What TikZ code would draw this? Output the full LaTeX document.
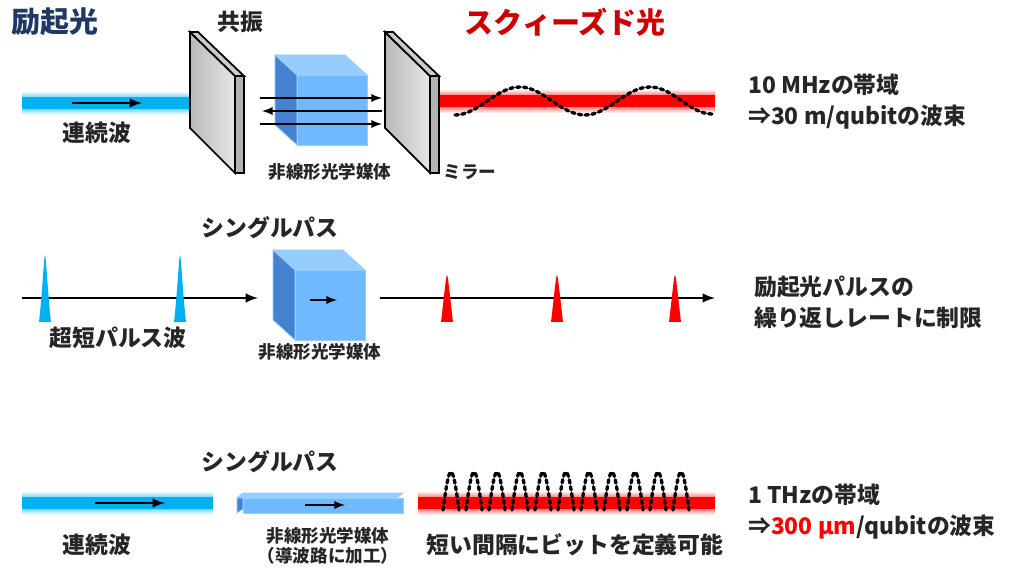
\documentclass[tikz,border=0pt]{standalone}
\usepackage{fontspec}
\setmainfont{Noto Sans CJK JP}
\usetikzlibrary{positioning}
\definecolor{beamblue}{RGB}{0,176,240}
\definecolor{navy}{RGB}{31,56,100}
\definecolor{cubefront}{RGB}{110,185,255}
\definecolor{cubeside}{RGB}{70,130,210}
\definecolor{cubetop}{RGB}{150,205,255}
\definecolor{mirrorface}{RGB}{210,210,210}
\tikzset{
  title/.style={font=\fontsize{16.5}{16}\selectfont\bfseries},
  label/.style={font=\fontsize{13}{13}\selectfont\bfseries, text=black!85},
  small/.style={font=\fontsize{10}{11.5}\selectfont\bfseries, text=black!85},
  note/.style={font=\fontsize{13}{14}\selectfont\bfseries, anchor=west, text=black!85},
  ray/.style={->, >=latex, line width=1.4pt},
  thin ray/.style={->, >=latex, line width=1.1pt},
  wave/.style={dotted, line width=1.9pt, line cap=round}
}
\newcommand\beam[4]{% x1, x2, y, colour
  \shade[top color=white, bottom color=white, middle color=#4] (#1,#3-12) rectangle (#2,#3+12);
  \fill[#4] (#1,#3-6) rectangle (#2,#3+6);}
\newcommand\mirror[1]{% left x of front face
  \begin{scope}[xshift=#1*0.02cm]
    \shade[left color=gray!55, right color=gray!20, draw=black, line width=1pt] (0,32) -- (45,76) -- (45,173) -- (0,128) -- cycle;
    \fill[gray!60, draw=black, line width=1pt] (45,76) -- (54,76) -- (54,173) -- (45,173) -- cycle;
    \fill[gray!40, draw=black, line width=1pt] (0,32) -- (8,32) -- (54,76) -- (45,76) -- cycle;
  \end{scope}}
\newcommand\cube[3]{% x, y of front top-left, size
  \fill[cubeside, draw=cubetop] (#1,#2) -- (#1-22,#2-20) -- (#1-22,#2+#3-20) -- (#1,#2+#3) -- cycle;
  \fill[cubetop, draw=cubetop] (#1,#2) -- (#1-22,#2-20) -- (#1+#3-22,#2-20) -- (#1+#3,#2) -- cycle;
  \fill[cubefront, draw=cubetop] (#1,#2) rectangle (#1+#3,#2+#3);}
\newcommand\pulse[4]{% x, top y, base y, colour
  \fill[#4] (#1-6,#3) .. controls (#1-3,#3-25) and (#1-1,#2) .. (#1,#2)
            .. controls (#1+1,#2) and (#1+3,#3-25) .. (#1+6,#3) -- cycle;}
\begin{document}
\begin{tikzpicture}[x=0.02cm, y=-0.02cm]
  \useasboundingbox (0,0) rectangle (1024,577);
  % ---- resonator ----
  \node[title, text=navy]      (exc)    at (55,22)  {励起光};
  \node[label]                 (res)    at (240,22) {共振};
  \node[title, text=red!80!black] (sq)  at (565,22) {スクィーズド光};
  \beam{22}{215}{103}{beamblue}
  \coordinate (cwA) at (72,103);  \coordinate (cwB) at (142,103);
  \draw[ray] (cwA) -- (cwB);
  \node[label] (cw1) at (97,133) {連続波};
  \mirror{190}
  \cube{297}{75}{70}
  \coordinate (r1a) at (260,98);  \coordinate (r1b) at (382,98);
  \coordinate (r2a) at (382,111); \coordinate (r2b) at (262,111);
  \coordinate (r3a) at (260,124); \coordinate (r3b) at (382,124);
  \draw[thin ray] (r1a) -- (r1b);
  \draw[thin ray] (r2a) -- (r2b);
  \draw[thin ray] (r3a) -- (r3b);
  \beam{440}{715}{101}{red}
  \mirror{385}
  \draw[wave] (455,115) cos (487,101) sin (520,87) cos (552,101) sin (585,115)
              cos (617,101) sin (650,87) cos (682,101) sin (712,114);
  \node[small] (med1) at (330,172) {非線形光学媒体};
  \node[small] (mir)  at (470,172) {ミラー};
  \node[note]  (bw1)  at (742,85)  {10 MHzの帯域};
  \node[note]  (pk1)  at (742,117) {⇒30 m/qubitの波束};
  % ---- single pass, pulsed ----
  \node[label] (sp1) at (270,228) {シングルパス};
  \coordinate (pA) at (22,298);  \coordinate (pB) at (258,298);
  \coordinate (pC) at (380,298); \coordinate (pD) at (715,298);
  \draw[ray] (pA) -- (pB);
  \draw[ray] (pC) -- (pD);
  \pulse{45}{255}{322}{beamblue}
  \pulse{180}{255}{322}{beamblue}
  \cube{295}{270}{70}
  \coordinate (cA) at (310,300); \coordinate (cB) at (337,300);
  \draw[thin ray] (cA) -- (cB);
  \pulse{447}{275}{322}{red}
  \pulse{557}{275}{322}{red}
  \pulse{675}{275}{322}{red}
  \node[label] (usp)  at (118,338) {超短パルス波};
  \node[small] (med2) at (320,352) {非線形光学媒体};
  \node[note]  (rep1) at (748,287) {励起光パルスの};
  \node[note]  (rep2) at (748,318) {繰り返しレートに制限};
  % ---- single pass, waveguide ----
  \node[label] (sp2) at (270,462) {シングルパス};
  \beam{22}{213}{503}{beamblue}
  \coordinate (wA) at (95,503); \coordinate (wB) at (165,503);
  \draw[ray] (wA) -- (wB);
  \node[label] (cw2) at (97,545) {連続波};
  \fill[cubeside, draw=cubetop] (237,498) -- (243,493) -- (243,509) -- (237,513) -- cycle;
  \fill[cubetop, draw=cubetop] (237,498) -- (243,493) -- (403,493) -- (397,498) -- cycle;
  \fill[cubefront, draw=cubetop] (243,498) rectangle (403,513);
  \coordinate (gA) at (305,505); \coordinate (gB) at (345,505);
  \draw[thin ray] (gA) -- (gB);
  \node[small, align=center] (med3) at (328,546) {非線形光学媒体\\（導波路に加工）};
  \beam{418}{715}{503}{red}
  \foreach \i in {0,...,10}
    \draw[wave] ({443+23*\i},510) .. controls ({447+23*\i},480) and ({449+23*\i},472) .. ({451+23*\i},472)
                .. controls ({453+23*\i},472) and ({455+23*\i},480) .. ({459+23*\i},510);
  \node[label] (dense) at (575,545) {短い間隔にビットを定義可能};
  \node[note]  (bw2) at (742,495) {1 THzの帯域};
  \node[note]  (pk2) at (742,527) {⇒\textcolor{red}{300 µm}/qubitの波束};
\end{tikzpicture}
\end{document}
